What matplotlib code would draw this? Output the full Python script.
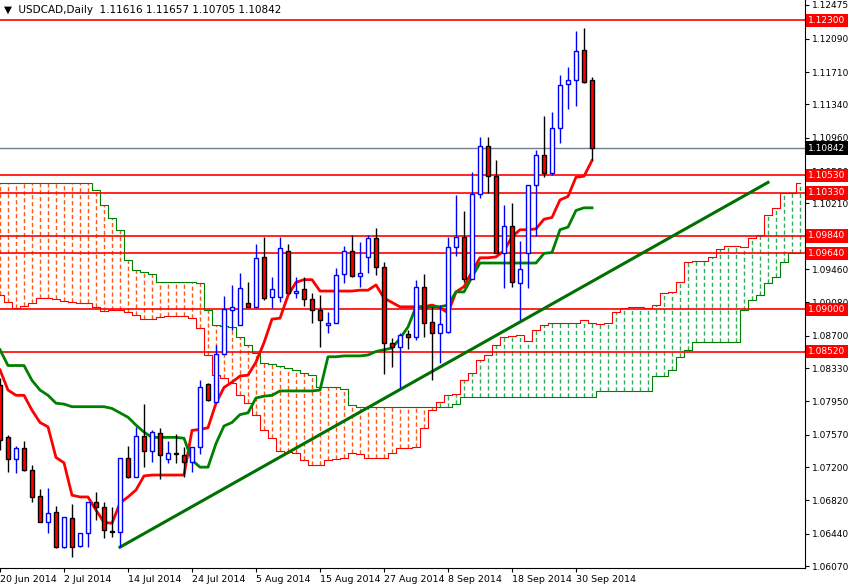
import matplotlib
matplotlib.use("Agg")
import matplotlib.pyplot as plt
import numpy as np

opens = [1.08136,1.07543,1.07292,1.07417,1.07166,1.06869,1.06572,1.06687,1.06287,1.06618,
         1.06299,1.06447,1.06801,1.06744,1.06470,1.06458,1.07303,1.07087,1.07554,1.07383,
         1.07588,1.07292,1.07360,1.07337,1.07258,1.07429,1.08148,1.07942,1.08490,1.08993,
         1.08821,1.09073,1.09027,1.09598,1.09141,1.09141,1.09667,1.09187,1.09233,1.09118,
         1.08993,1.08821,1.08844,1.09404,1.09667,1.09381,1.09598,1.09815,1.09484,1.08616,
         1.08570,1.08719,1.08684,1.09256,1.08856,1.08730,1.08742,1.09712,1.09826,1.09347,
         1.10317,1.10865,1.10523,1.09644,1.09952,1.09301,1.09644,1.10420,1.10763,1.10557,
         1.11071,1.11573,1.11619,1.11961,1.11616]
highs = [1.08216,1.07566,1.07440,1.07497,1.07223,1.06949,1.06961,1.06755,1.06630,1.06778,
         1.06447,1.06801,1.06915,1.06801,1.06744,1.07303,1.07440,1.07657,1.07919,1.07623,
         1.07646,1.07497,1.07577,1.07429,1.07429,1.08193,1.08159,1.08593,1.09153,1.09279,
         1.09416,1.09313,1.09746,1.09826,1.09370,1.09826,1.09746,1.09370,1.09370,1.09187,
         1.09164,1.08970,1.09473,1.09724,1.09849,1.09769,1.09849,1.09929,1.09541,1.08673,
         1.08730,1.08764,1.09336,1.09404,1.09027,1.09050,1.09826,1.10306,1.10123,1.10568,
         1.10968,1.10968,1.10705,1.10192,1.10215,1.09781,1.10420,1.10820,1.11208,1.11253,
         1.11676,1.11767,1.12178,1.12212,1.11657]
lows = [1.07394,1.07144,1.07132,1.07155,1.06801,1.06572,1.06447,1.06276,1.06276,1.06173,
        1.06287,1.06287,1.06595,1.06390,1.06401,1.06287,1.07075,1.07087,1.07201,1.07258,
        1.07064,1.07246,1.07246,1.07087,1.07144,1.07349,1.07954,1.07942,1.08490,1.08764,
        1.08821,1.09027,1.09027,1.09107,1.09016,1.09084,1.09187,1.09130,1.09039,1.08844,
        1.08570,1.08730,1.08844,1.09301,1.09370,1.09256,1.09416,1.09393,1.08262,1.08342,
        1.08102,1.08547,1.08650,1.08684,1.08193,1.08388,1.08730,1.09609,1.09313,1.09347,
        1.10272,1.10329,1.09644,1.09244,1.09256,1.08879,1.09244,1.09838,1.10511,1.10534,
        1.10899,1.11288,1.11322,1.11584,1.10705]
closes = [1.07508,1.07292,1.07417,1.07166,1.06858,1.06572,1.06675,1.06287,1.06630,1.06287,
          1.06447,1.06801,1.06744,1.06481,1.06465,1.07303,1.07087,1.07554,1.07383,1.07600,
          1.07337,1.07360,1.07355,1.07258,1.07429,1.08113,1.07965,1.08490,1.09004,1.09027,
          1.09244,1.09027,1.09587,1.09130,1.09233,1.09701,1.09187,1.09210,1.09118,1.08993,
          1.08878,1.08844,1.09393,1.09667,1.09381,1.09416,1.09815,1.09484,1.08616,1.08570,
          1.08707,1.08684,1.09256,1.08844,1.08730,1.08833,1.09712,1.09826,1.09347,1.10317,
          1.10865,1.10523,1.09644,1.09952,1.09313,1.09461,1.10420,1.10763,1.10557,1.11071,
          1.11562,1.11619,1.11950,1.11596,1.10842]

tenkan = [1.0831,1.0808,1.0802,1.0802,1.0785,1.0771,1.0766,1.0731,1.0725,1.0688,
          1.0686,1.0686,1.0671,1.0657,1.0656,1.0679,1.0686,1.0694,1.0710,1.0711,
          1.0711,1.0711,1.0711,1.0711,1.0762,1.0763,1.0765,1.0793,1.0811,1.0817,
          1.0824,1.0825,1.0840,1.0862,1.0889,1.0890,1.0916,1.0931,1.0934,1.0934,
          1.0921,1.0921,1.0921,1.0921,1.0921,1.0922,1.0922,1.0928,1.0913,1.0908,
          1.0903,1.0903,1.0903,1.0903,1.0905,1.0902,1.0896,1.0920,1.0926,1.0943,
          1.0959,1.0959,1.0960,1.0967,1.0983,1.0991,1.0991,1.0992,1.1003,1.1005,
          1.1025,1.1029,1.1051,1.1052,1.1070]
kijun = [1.0854,1.0836,1.0836,1.0836,1.0819,1.0808,1.0802,1.0793,1.0792,1.0789,
         1.0789,1.0789,1.0789,1.0789,1.0787,1.0782,1.0777,1.0768,1.0760,1.0754,
         1.0754,1.0754,1.0754,1.0753,1.0728,1.0720,1.0720,1.0747,1.0767,1.0771,
         1.0780,1.0782,1.0799,1.0801,1.0802,1.0807,1.0807,1.0807,1.0807,1.0807,
         1.0808,1.0846,1.0846,1.0847,1.0847,1.0847,1.0848,1.0852,1.0854,1.0856,
         1.0867,1.0880,1.0903,1.0903,1.0903,1.0903,1.0905,1.0920,1.0920,1.0937,
         1.0953,1.0953,1.0953,1.0953,1.0953,1.0953,1.0953,1.0953,1.0964,1.0965,
         1.0991,1.0994,1.1013,1.1016,1.1016]
span_a = [1.0917,1.0908,1.0902,1.0904,1.0907,1.0913,1.0913,1.0912,1.0910,1.0908,
          1.0907,1.0907,1.0903,1.0898,1.0899,1.0899,1.0897,1.0894,1.0889,1.0889,
          1.0891,1.0892,1.0892,1.0892,1.0890,1.0879,1.0848,1.0825,1.0822,1.0816,
          1.0802,1.0793,1.0779,1.0762,1.0753,1.0739,1.0737,1.0736,1.0728,1.0722,
          1.0722,1.0728,1.0729,1.0730,1.0736,1.0735,1.0731,1.0731,1.0731,1.0736,
          1.0742,1.0742,1.0743,1.0765,1.0785,1.0794,1.0802,1.0804,1.0819,1.0827,
          1.0842,1.0848,1.0859,1.0868,1.0870,1.0871,1.0864,1.0877,1.0882,1.0884,
          1.0884,1.0884,1.0884,1.0888,1.0884,
          1.0883,1.0885,1.0897,1.0902,1.0903,1.0903,1.0902,1.0905,1.0919,1.0920,
          1.0931,1.0954,1.0955,1.0955,1.0960,1.0969,1.0972,1.0972,1.0971,1.0981,
          1.0985,1.1008,1.1016,1.1033,1.1033,1.1044]
span_b = [1.1044]*12 + [1.1036,1.1019,1.1004,1.0991,1.0956,1.0945,1.0943,1.0940,
          1.0931,1.0931,1.0931,1.0931,1.0931,1.0930,1.0899,1.0882,1.0881,1.0880,
          1.0868,1.0859,1.0850,1.0839,1.0838,1.0836,1.0833,1.0831,1.0828,1.0825,
          1.0811,1.0811,1.0811,1.0809,1.0791] + [1.0789]*12 + [1.0792] + [1.0800]*17 \
          + [1.0807]*7 + [1.0824,1.0824,1.0831,1.0846,1.0854] + [1.0863]*6 \
          + [1.0899,1.0911,1.0917,1.0930,1.0937,1.0954,1.0965,1.0965]

levels = [1.1230, 1.1053, 1.1033, 1.0984, 1.0964, 1.0900, 1.0852]
current = 1.10842
trend_x = [15, 96]
trend_y = [1.06287, 1.1045]
yticks = [1.12475,1.12090,1.11710,1.11340,1.10960,1.10580,1.10210,1.09460,
          1.09080,1.08700,1.08330,1.07950,1.07570,1.07200,1.06820,1.06440,1.06070]
xtick_idx = [0, 8, 16, 24, 32, 40, 48, 56, 64, 72]
xtick_lab = ["20 Jun 2014","2 Jul 2014","14 Jul 2014","24 Jul 2014","5 Aug 2014",
             "15 Aug 2014","27 Aug 2014","8 Sep 2014","18 Sep 2014","30 Sep 2014"]

W, H = 848, 586
fig = plt.figure(figsize=(W/100, H/100), dpi=100)
ax = fig.add_axes([0, 18/H, 805/W, 568/H])
ax.set_xlim(0, 805/8)
ax.set_ylim(1.06049, 1.12532)

n = len(span_a)
for i in range(n):
    a, b = span_a[i], span_b[i]
    col = '#2fae5a' if a > b else '#ff5a14'
    ax.vlines(i, min(a, b), max(a, b), colors=col, linewidth=1, linestyles=(0, (3, 2)), zorder=1)
ax.plot(range(n), span_a, color='#ff0000', lw=0.8, zorder=2, drawstyle='steps-mid')
ax.plot(range(n), span_b, color='#008000', lw=0.8, zorder=2, drawstyle='steps-mid')

for lv in levels:
    ax.axhline(lv, color='#ff0000', lw=1.2, zorder=2)
ax.axhline(current, color='#708090', lw=1, zorder=2)

ax.plot(range(len(tenkan)), tenkan, color='#ff0000', lw=2, zorder=3)
ax.plot(range(len(kijun)), kijun, color='#008000', lw=2, zorder=3)
ax.plot(trend_x, trend_y, color='#007000', lw=2.2, zorder=3)

w = 0.27
for i, (o, h, l, c) in enumerate(zip(opens, highs, lows, closes)):
    if c >= o:
        ax.vlines(i, l, h, colors='#0000ff', lw=1, zorder=4)
        ax.add_patch(plt.Rectangle((i - w, o), 2 * w, max(c - o, 1e-5), facecolor='white',
                                   edgecolor='#0000ff', lw=1, zorder=5))
    else:
        ax.vlines(i, l, h, colors='black', lw=1, zorder=4)
        ax.add_patch(plt.Rectangle((i - w, c), 2 * w, o - c, facecolor='#ff0000',
                                   edgecolor='black', lw=1, zorder=5))

ax.yaxis.tick_right()
ax.set_yticks(yticks)
ax.set_yticklabels([f"{v:.5f}" for v in yticks], fontsize=6.5)
ax.set_xticks(xtick_idx)
ax.set_xticklabels(xtick_lab, fontsize=6.8, ha='left')
ax.tick_params(axis='both', length=3, color='black', pad=2)
for sp in ['top', 'left']:
    ax.spines[sp].set_visible(False)

for lv in levels:
    ax.text(1.004, lv, f"{lv:.5f}", transform=ax.get_yaxis_transform(), fontsize=6.5,
            color='white', va='center', ha='left',
            bbox=dict(boxstyle='square,pad=0.25', fc='#ff0000', ec='none'), zorder=10, clip_on=False)
ax.text(1.004, current, f"{current:.5f}", transform=ax.get_yaxis_transform(), fontsize=6.5,
        color='white', va='center', ha='left',
        bbox=dict(boxstyle='square,pad=0.25', fc='black', ec='none'), zorder=10, clip_on=False)

fig.text(4/W, 1 - 10/H, "▼  USDCAD,Daily  1.11616 1.11657 1.10705 1.10842",
         fontsize=7.5, va='center', ha='left')
fig.savefig("out.png", dpi=100)
